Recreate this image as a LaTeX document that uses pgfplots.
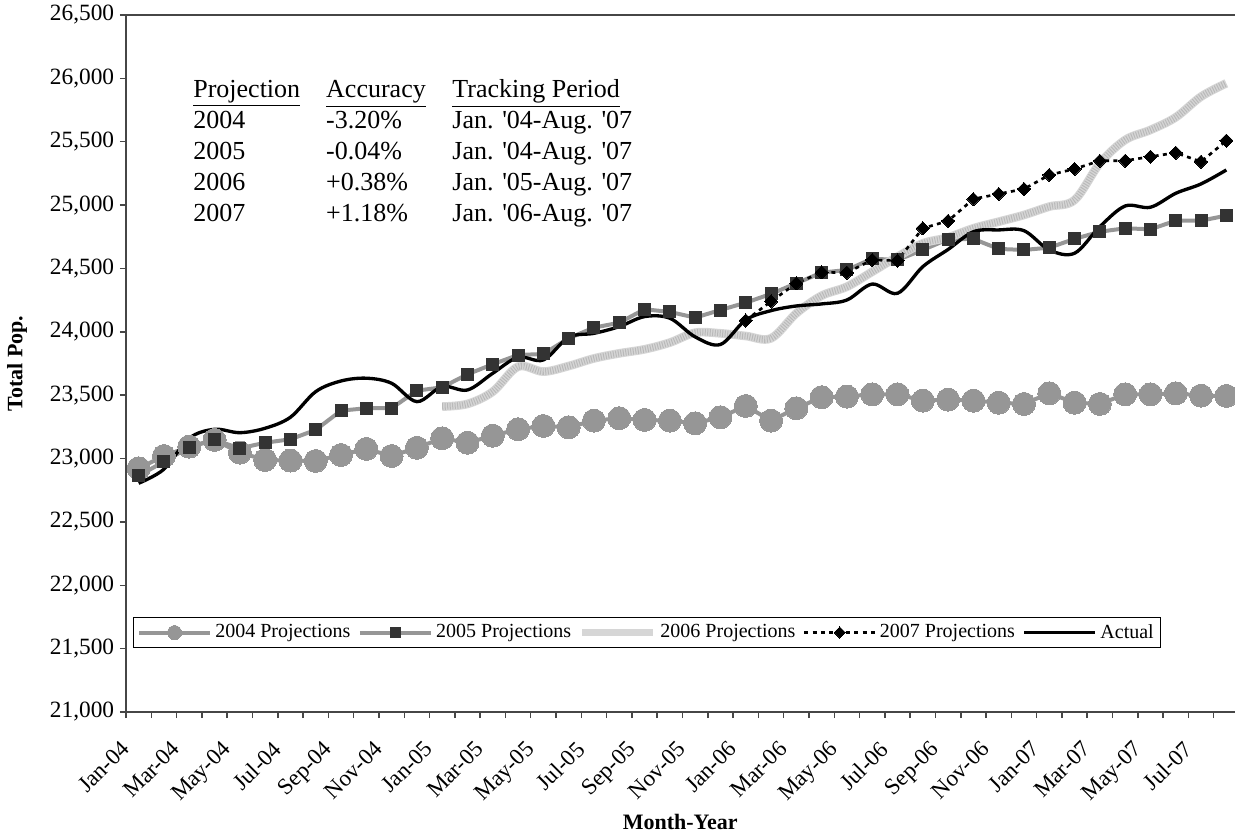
\documentclass[border=0pt]{standalone}
\usepackage{fontspec}
\setmainfont{Liberation Serif}
\usepackage{pgfplots}
\pgfplotsset{compat=1.18}

\definecolor{g04}{RGB}{150,150,150}
\definecolor{sq05}{RGB}{51,51,51}
\definecolor{l06a}{RGB}{214,214,214}
\definecolor{l06b}{RGB}{185,185,185}
\definecolor{axgray}{RGB}{70,70,70}

% 1 px of the reference = 0.6pt
\begin{document}
\begin{tikzpicture}[x=1pt,y=1pt]
\begin{axis}[
  at={(0,0)}, anchor=south west,
  scale only axis,
  width=667.8pt, height=418.2pt,
  xmin=-0.5, xmax=43.5,
  ymin=21000, ymax=26500,
  ytick={21000,21500,...,26500},
  scaled y ticks=false,
  xtick={0,2,...,42},
  xticklabels={Jan-04,Mar-04,May-04,Jul-04,Sep-04,Nov-04,Jan-05,Mar-05,May-05,Jul-05,Sep-05,Nov-05,Jan-06,Mar-06,May-06,Jul-06,Sep-06,Nov-06,Jan-07,Mar-07,May-07,Jul-07},
  minor xtick={-0.5,0.5,...,43.5},
  tick pos=left,
  tick align=outside,
  major tick length=3.6pt,
  minor tick length=3.6pt,
  major x tick style={draw=none},
  axis line style={axgray, line width=0.9pt},
  tick style={axgray, line width=0.9pt},
  /pgf/number format/1000 sep={,},
  /pgf/number format/assume math mode=true,
  yticklabel style={font=\fontsize{14}{16}\selectfont},
  xticklabel style={font=\fontsize{13.8}{16}\selectfont, xshift=-11.4pt, yshift=-8pt, rotate=45, anchor=north east},
  every axis y label/.style={at={(axis description cs:0,0.5)}, xshift=-65.4pt, rotate=90, anchor=center, font=\fontsize{13.2}{15}\selectfont\bfseries},
  every axis x label/.style={at={(axis description cs:0.498,0)}, yshift=-66pt, anchor=center, font=\fontsize{13.2}{15}\selectfont\bfseries},
  ylabel={Total Pop.},
  xlabel={Month-Year},
  legend columns=5,
  legend style={at={(0.0063,0.1363)}, anchor=north west, draw=black, line width=0.8pt,
    font=\fontsize{12}{14}\selectfont, inner xsep=2pt, inner ysep=2pt,
    /tikz/every even column/.append style={column sep=2.5pt}},
  legend image code/.code={\draw[mark repeat=2,mark phase=2] plot coordinates {(0pt,0pt) (21.3pt,0pt) (42.6pt,0pt)};},
  clip=false,
]
% 2004 projections
\addplot[forget plot, g04, line width=2.4pt, mark=*, mark size=6.9pt, mark options={fill=g04, draw=g04, line width=0pt}] coordinates {
(0,22923) (1,23020) (2,23094) (3,23147) (4,23047) (5,22989) (6,22984) (7,22981) (8,23028) (9,23076)
(10,23020) (11,23085) (12,23160) (13,23125) (14,23180) (15,23231) (16,23257) (17,23247) (18,23299) (19,23318)
(20,23305) (21,23299) (22,23278) (23,23326) (24,23415) (25,23299) (26,23397) (27,23484) (28,23489) (29,23507)
(30,23507) (31,23457) (32,23465) (33,23457) (34,23441) (35,23431) (36,23515) (37,23441) (38,23431) (39,23507)
(40,23507) (41,23515) (42,23496) (43,23494)};
% 2005 projections
\addplot[forget plot, g04, line width=2.4pt, mark=square*, mark size=3.6pt, mark options={fill=sq05, draw=sq05, line width=0pt}] coordinates {
(0,22863) (1,22976) (2,23089) (3,23147) (4,23081) (5,23125) (6,23152) (7,23226) (8,23378) (9,23397)
(10,23397) (11,23536) (12,23562) (13,23665) (14,23744) (15,23817) (16,23825) (17,23949) (18,24033) (19,24072)
(20,24178) (21,24157) (22,24112) (23,24172) (24,24230) (25,24299) (26,24383) (27,24467) (28,24488) (29,24577)
(30,24567) (31,24646) (32,24731) (33,24733) (34,24654) (35,24646) (36,24664) (37,24733) (38,24790) (39,24817)
(40,24809) (41,24877) (42,24877) (43,24917)};
% 2006 projections (textured light line)
\addplot[forget plot, l06a, line width=5.2pt, smooth, tension=0.55] table {
12 23410
13 23431
14 23528
15 23725
16 23686
17 23730
18 23790
19 23830
20 23862
21 23915
22 23993
23 23988
24 23967
25 23949
26 24146
27 24285
28 24356
29 24474
30 24593
31 24698
32 24745
33 24817
34 24869
35 24922
36 24988
37 25040
38 25330
39 25514
40 25593
41 25693
42 25856
43 25961
};
\addplot[forget plot, l06b, line width=4pt, smooth, tension=0.55, dash pattern=on 0.6pt off 0.9pt] table {
12 23410
13 23431
14 23528
15 23725
16 23686
17 23730
18 23790
19 23830
20 23862
21 23915
22 23993
23 23988
24 23967
25 23949
26 24146
27 24285
28 24356
29 24474
30 24593
31 24698
32 24745
33 24817
34 24869
35 24922
36 24988
37 25040
38 25330
39 25514
40 25593
41 25693
42 25856
43 25961
};
% 2007 projections
\addplot[forget plot, black, line width=1.6pt, dash pattern=on 2.4pt off 2.6pt, mark=square*, mark size=2.8pt, mark options={solid, fill=black, rotate=45, line width=0pt}] coordinates {
(24,24090) (25,24240) (26,24383) (27,24470) (28,24467) (29,24567) (30,24562) (31,24817) (32,24875) (33,25048)
(34,25088) (35,25127) (36,25238) (37,25285) (38,25350) (39,25350) (40,25382) (41,25413) (42,25342) (43,25508)};
% Actual
\addplot[forget plot, black, line width=2pt, smooth, tension=0.55] coordinates {
(0,22805) (1,22916) (2,23160) (3,23231) (4,23204) (5,23239) (6,23326) (7,23528) (8,23612) (9,23634)
(10,23594) (11,23449) (12,23568) (13,23541) (14,23673) (15,23799) (16,23778) (17,23957) (18,23988) (19,24041)
(20,24120) (21,24107) (22,23960) (23,23900) (24,24094) (25,24167) (26,24204) (27,24220) (28,24251) (29,24377)
(30,24304) (31,24514) (32,24650) (33,24790) (34,24804) (35,24798) (36,24646) (37,24620) (38,24830) (39,24993)
(40,24983) (41,25093) (42,25167) (43,25277)};

\addlegendimage{g04, line width=2.4pt, mark=*, mark size=4.2pt, mark options={fill=g04, draw=g04, line width=0pt}}
\addlegendimage{g04, line width=2.4pt, mark=square*, mark size=3pt, mark options={fill=sq05, draw=sq05, line width=0pt}}
\addlegendimage{l06a, line width=4.5pt}
\addlegendimage{black, line width=1.6pt, dash pattern=on 2.4pt off 2.6pt, mark=square*, mark size=2.4pt, mark options={solid, fill=black, rotate=45, line width=0pt}}
\addlegendimage{black, line width=2.2pt}
\legend{2004 Projections,2005 Projections,2006 Projections,2007 Projections,Actual}

\node[anchor=base west, inner sep=0pt, font=\fontsize{15.6}{18.6}\selectfont] at (rel axis cs:0.0602,0.881) {%
\begin{tabular}[t]{@{}l@{\hspace{15.6pt}}l@{\hspace{16pt}}l@{}}
\underline{Projection} & \underline{Accuracy} & \underline{Tracking Period}\\
2004 & -3.20\% & Jan. \textquotesingle 04-Aug. \textquotesingle 07\\
2005 & -0.04\% & Jan. \textquotesingle 04-Aug. \textquotesingle 07\\
2006 & +0.38\% & Jan. \textquotesingle 05-Aug. \textquotesingle 07\\
2007 & +1.18\% & Jan. \textquotesingle 06-Aug. \textquotesingle 07
\end{tabular}};
\end{axis}
\pgfresetboundingbox
\path (-75.6pt,-73.2pt) rectangle (665.4pt,427.2pt);
\end{tikzpicture}
\end{document}
